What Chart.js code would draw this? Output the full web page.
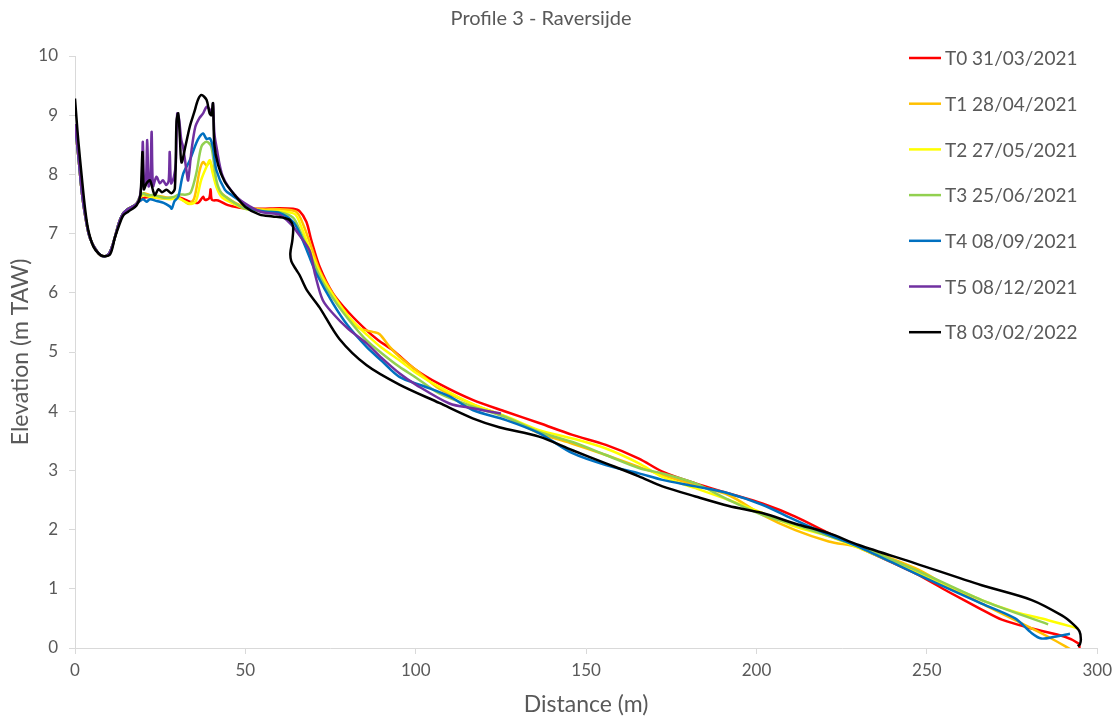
<!DOCTYPE html>
<html>
<head>
<meta charset="utf-8">
<script src="https://cdn.jsdelivr.net/npm/chart.js@4/dist/chart.umd.min.js"></script>
<style>
  html, body { margin: 0; padding: 0; background: #ffffff; }
  #wrap { width: 1118px; height: 718px; position: relative; }
</style>
</head>
<body>
<div id="wrap"><canvas id="c" width="1118" height="718"></canvas></div>
<script>
// Beach profile surveys: [distance (m), elevation (m TAW)]
const seriesNames = ["T0 31/03/2021", "T1 28/04/2021", "T2 27/05/2021", "T3 25/06/2021",
                     "T4 08/09/2021", "T5 08/12/2021", "T8 03/02/2022"];
const seriesColors = ["#FF0000", "#FFC000", "#FFFF00", "#92D050", "#0070C0", "#7030A0", "#000000"];
const xTicks = [0, 50, 100, 150, 200, 250, 300];
const yTicks = [0, 1, 2, 3, 4, 5, 6, 7, 8, 9, 10];

// Dune foot and hollow shared by the 2021 surveys
const duneFoot = [[0,8.85],[1,8.3],[2,7.7],[3,7.3],[4,7.0],[5,6.84],[6,6.74],[7,6.66],[8,6.62],[9,6.62],
                  [10,6.66],[11,6.8],[12,7.0],[13,7.2],[14,7.33],[15,7.39],[16,7.43],[17,7.46],[18,7.5]];

const T0 = duneFoot.concat([[19,7.55],[20,7.6],[22,7.62],[25,7.6],[28,7.6],[30,7.62],[32,7.58],[33.7,7.54],
  [36.1,7.52],[37.6,7.62],[38.1,7.57],[39.4,7.6],[39.8,7.75],[40.2,7.57],[42,7.56],[44.9,7.48],[48,7.44],
  [51,7.42],[55,7.42],[60,7.43],[64,7.42],[65.9,7.38],[67.9,7.2],[69.3,6.9],[71.8,6.44],[75.7,5.99],
  [80.6,5.65],[85.5,5.37],[89,5.2],[93.3,5.03],[100,4.7],[106.9,4.46],[116.7,4.19],[126.5,3.99],
  [136.2,3.8],[146,3.6],[155.8,3.43],[165.5,3.2],[172.4,2.98],[182.1,2.78],[191.9,2.61],[201.7,2.44],
  [211.4,2.22],[221.2,1.94],[230,1.7],[246.6,1.26],[256.3,0.95],[266.1,0.65],[272,0.48],[280.8,0.33],
  [290.5,0.19],[294.4,0.08],[294.9,0]]);

const T1 = duneFoot.concat([[19,7.6],[20,7.68],[22,7.65],[25,7.63],[28,7.6],[30,7.62],[32,7.55],[33.5,7.5],
  [35,7.6],[36.6,8.07],[37.6,8.21],[38.6,8.15],[39.6,8.21],[40.5,8.05],[42,7.74],[44.4,7.62],[47,7.52],
  [50,7.45],[55,7.41],[60,7.41],[64.9,7.37],[67,7.15],[69.5,6.75],[72,6.35],[76,5.95],[80,5.62],
  [83.5,5.4],[87.4,5.34],[89.4,5.3],[92.3,5.09],[95.2,4.92],[100,4.7],[106.9,4.38],[116.7,4.12],
  [126.5,3.9],[136.2,3.63],[146,3.45],[155.8,3.26],[165.5,3.06],[172.4,2.92],[182.1,2.75],[191.9,2.58],
  [201.7,2.25],[211.4,1.99],[221.2,1.8],[230,1.7],[246.6,1.35],[256.3,1.04],[266.1,0.75],[275.9,0.47],
  [285.6,0.19],[293,-0.05]]);

const T2 = duneFoot.concat([[19,7.6],[20,7.65],[22,7.62],[25,7.6],[28,7.58],[30,7.6],[32,7.55],[34,7.5],
  [35.5,7.55],[37,7.9],[38.6,8.13],[39.6,8.24],[40.3,8.05],[41.5,7.79],[43,7.62],[46,7.52],[50,7.42],
  [55,7.39],[60,7.38],[64.5,7.33],[66.5,7.1],[69.8,6.6],[73,6.2],[77,5.85],[81,5.55],[85.5,5.3],
  [90,5.07],[95.2,4.86],[100,4.65],[106.9,4.41],[116.7,4.12],[126.5,3.91],[136.2,3.68],[146,3.54],
  [155.8,3.37],[165.5,3.12],[172.4,2.89],[182.1,2.7],[191.9,2.5],[201.7,2.28],[211.4,2.05],[221.2,1.89],
  [230,1.69],[246.6,1.29],[266.1,0.81],[275.9,0.61],[285.6,0.47],[294.4,0.33]]);

const T3 = duneFoot.concat([[19,7.62],[20,7.68],[21,7.65],[23,7.65],[25,7.62],[27,7.6],[29,7.62],[30.5,7.66],
  [32.7,7.66],[34,7.7],[35.6,8.02],[37.1,8.47],[38.6,8.55],[40,8.47],[41.5,7.9],[43,7.68],[46,7.55],
  [50,7.42],[55,7.38],[60,7.36],[64,7.27],[66,7.05],[69,6.65],[72.5,6.2],[77,5.8],[81,5.5],[85.5,5.2],
  [90,4.98],[95.2,4.75],[100,4.57],[106.9,4.3],[116.7,4.08],[126.5,3.9],[136.2,3.65],[146,3.48],
  [155.8,3.26],[165.5,3.04],[172.4,2.95],[182.1,2.78],[191.9,2.5],[201.7,2.25],[211.4,2.08],[221.2,1.89],
  [230,1.72],[246.6,1.32],[266.1,0.81],[285.6,0.4]]);

const T4 = duneFoot.concat([[19,7.55],[20,7.58],[21,7.54],[22,7.58],[24,7.55],[26,7.52],[27.8,7.46],[28.4,7.42],
  [29.2,7.55],[30.3,7.62],[31.7,8.0],[33.7,8.24],[35.6,8.53],[36.6,8.64],[37.6,8.69],[38.6,8.6],[39.6,8.61],
  [40.5,8.45],[41.5,8.07],[44,7.74],[46,7.65],[49.3,7.52],[52,7.42],[56,7.37],[60,7.35],[64,7.2],[66,7.0],
  [68.5,6.65],[70.8,6.33],[75.7,5.82],[80,5.45],[85.5,5.09],[90,4.85],[95.2,4.58],[102,4.43],[109.9,4.25],
  [116.7,4.02],[126.5,3.85],[136.2,3.63],[146,3.29],[155.8,3.09],[165.5,2.95],[172.4,2.84],[182.1,2.73],
  [191.9,2.61],[201.7,2.42],[211.4,2.16],[221.2,1.91],[230,1.71],[246.6,1.26],[266.1,0.75],[275.9,0.5],
  [280.8,0.25],[283.6,0.16],[287.5,0.19],[292,0.24]]);

const T5 = duneFoot.concat([[19,7.62],[19.6,7.9],[19.9,8.55],[20.3,7.8],[20.8,7.85],[21.2,8.58],[21.6,7.8],
  [22.1,7.9],[22.5,8.72],[22.9,7.8],[23.9,7.96],[24.9,7.85],[25.8,7.9],[26.8,7.82],[27.5,7.9],[27.8,8.38],
  [28.2,7.85],[29,7.95],[29.6,8.2],[30.0,9.03],[30.5,8.95],[30.8,8.8],[31.2,8.58],[31.7,8.47],[32.7,8.07],
  [33.2,7.9],[34.2,8.41],[35.3,8.8],[36.5,8.95],[37.6,9.03],[38.6,9.14],[39.5,9.1],[40.2,9.0],[40.5,9.2],
  [40.9,8.7],[41.5,8.47],[43.4,7.96],[47.4,7.62],[51.3,7.46],[55,7.36],[60,7.32],[63.5,7.15],[65.5,7.0],
  [68.8,6.72],[70.5,6.3],[72.7,5.88],[75.7,5.65],[80,5.4],[85.5,5.15],[90,4.9],[95.2,4.64],[100,4.45],
  [109.9,4.13],[116.7,4.05],[125,3.96]]);

const T8 = [[0,9.28],[0.5,8.9],[1,8.55],[2,7.95],[3,7.4],[3.9,7.06],[5.4,6.78],[7,6.66],[8.3,6.62],[10.3,6.65],
  [11.7,6.93],[13,7.15],[14.2,7.31],[15.6,7.37],[18.1,7.48],[19.2,7.65],[19.8,8.38],[20.2,7.75],[21,7.85],
  [22,7.9],[23.4,7.65],[24.5,7.75],[25.5,7.7],[26.9,7.74],[28.3,7.68],[29.3,7.76],[29.8,8.9],[30.3,9.03],
  [30.8,8.6],[31.25,8.2],[32.5,8.5],[33.7,8.81],[35,9.05],[36.1,9.26],[37.1,9.34],[38.6,9.26],[39.5,9.03],
  [40,9.0],[40.5,9.2],[40.9,8.5],[42,8.16],[43.9,7.88],[46.9,7.65],[50,7.45],[54.2,7.32],[58,7.29],
  [61,7.27],[63,7.23],[64,7.12],[63.8,6.89],[63.2,6.67],[63.5,6.53],[64.9,6.39],[65.9,6.3],[68,6.05],
  [71.8,5.75],[77.6,5.22],[85.5,4.78],[95.2,4.45],[106.9,4.14],[116.7,3.88],[124.5,3.73],[136.2,3.57],
  [146,3.34],[155.8,3.12],[165.5,2.9],[172.4,2.73],[182.1,2.56],[191.9,2.4],[201.7,2.28],[211.4,2.1],
  [221.2,1.94],[230,1.74],[246.6,1.43],[266.1,1.06],[280.8,0.81],[289.6,0.55],[293,0.4],[294.8,0.28],
  [295.2,0.15],[294.9,0.06],[294.3,0.03]];

const seriesData = [T0, T1, T2, T3, T4, T5, T8];

const FONT = "Lato, 'Open Sans', sans-serif";
const TEXT = "#595959";

// Chart title, axis titles and the legend column on the right
const decorations = {
  id: "decorations",
  afterDraw(chart) {
    const ctx = chart.ctx;
    const area = chart.chartArea;
    ctx.save();
    ctx.fillStyle = TEXT;
    ctx.textAlign = "center";
    ctx.textBaseline = "middle";
    ctx.font = "20px " + FONT;
    ctx.fillText("Profile 3 - Raversijde", 541, 19);
    ctx.font = "23px " + FONT;
    ctx.fillText("Distance (m)", (area.left + area.right) / 2, 705);
    ctx.translate(21, (area.top + area.bottom) / 2);
    ctx.rotate(-Math.PI / 2);
    ctx.fillText("Elevation (m TAW)", 0, 0);
    ctx.restore();

    ctx.save();
    ctx.font = "19px " + FONT;
    ctx.textAlign = "left";
    ctx.textBaseline = "middle";
    chart.data.datasets.forEach((ds, i) => {
      const y = 58 + i * 45.7;
      ctx.strokeStyle = ds.borderColor;
      ctx.lineWidth = 2.5;
      ctx.beginPath();
      ctx.moveTo(909, y);
      ctx.lineTo(941, y);
      ctx.stroke();
      ctx.fillStyle = TEXT;
      ctx.fillText(ds.label, 945, y + 1);
    });
    ctx.restore();
  }
};

new Chart(document.getElementById("c"), {
  type: "scatter",
  data: {
    datasets: seriesData.map((pts, i) => ({
      label: seriesNames[i],
      data: pts.map(p => ({ x: p[0], y: p[1] })),
      showLine: true,
      borderColor: seriesColors[i],
      backgroundColor: seriesColors[i],
      borderWidth: 2.5,
      pointRadius: 0,
      pointHoverRadius: 0,
      tension: 0.3,
      order: seriesData.length - i
    }))
  },
  options: {
    responsive: false,
    animation: false,
    layout: { padding: { left: 0, top: 56, right: 19, bottom: 0 } },
    plugins: { legend: { display: false }, title: { display: false }, tooltip: { enabled: false } },
    scales: {
      x: {
        type: "linear",
        min: 0, max: 300,
        afterBuildTicks: s => { s.ticks = xTicks.map(v => ({ value: v })); },
        afterFit: s => { s.height = 70; },
        grid: { display: true, drawOnChartArea: false, drawTicks: true, tickLength: 6, color: "#d9d9d9" },
        border: { display: true, color: "#d9d9d9", width: 1 },
        ticks: { color: TEXT, font: { family: FONT, size: 17 }, padding: 6, maxRotation: 0 }
      },
      y: {
        type: "linear",
        min: 0, max: 10,
        afterBuildTicks: s => { s.ticks = yTicks.map(v => ({ value: v })); },
        afterFit: s => { s.width = 75; },
        grid: { display: true, drawOnChartArea: false, drawTicks: true, tickLength: 6, color: "#d9d9d9" },
        border: { display: true, color: "#d9d9d9", width: 1 },
        ticks: { color: TEXT, font: { family: FONT, size: 17 }, padding: 11 }
      }
    }
  },
  plugins: [decorations]
});
</script>
</body>
</html>
